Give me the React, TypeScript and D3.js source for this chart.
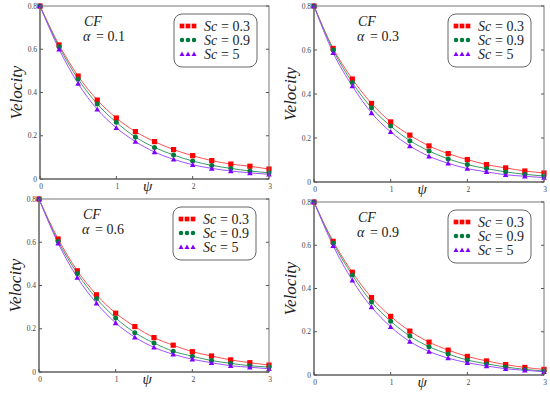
import React from "react";
import * as d3 from "d3";

// psi sample points (markers every 0.25)
const psi = [0, 0.25, 0.5, 0.75, 1, 1.25, 1.5, 1.75, 2, 2.25, 2.5, 2.75, 3];
const xTicks = [0, 1, 2, 3];
const yTicks = [0, 0.2, 0.4, 0.6, 0.8];
const scLabels = ["0.3", "0.9", "5"];
const alphaLabels = ["0.1", "0.3", "0.6", "0.9"];

// velocity profiles, one array per (alpha, Sc)
const a01Sc03 = [0.8, 0.62, 0.476, 0.365, 0.282, 0.219, 0.173, 0.136, 0.108, 0.085, 0.069, 0.059, 0.046];
const a01Sc09 = [0.8, 0.612, 0.462, 0.347, 0.262, 0.194, 0.146, 0.111, 0.083, 0.063, 0.049, 0.037, 0.029];
const a01Sc5 = [0.8, 0.6, 0.441, 0.322, 0.237, 0.173, 0.125, 0.091, 0.066, 0.049, 0.037, 0.028, 0.022];

const a03Sc03 = [0.8, 0.607, 0.468, 0.357, 0.273, 0.213, 0.164, 0.129, 0.102, 0.079, 0.064, 0.05, 0.041];
const a03Sc09 = [0.8, 0.6, 0.452, 0.337, 0.254, 0.188, 0.141, 0.105, 0.079, 0.061, 0.046, 0.035, 0.027];
const a03Sc5 = [0.8, 0.587, 0.436, 0.314, 0.228, 0.164, 0.117, 0.085, 0.061, 0.046, 0.033, 0.026, 0.02];

const a06Sc03 = [0.8, 0.615, 0.468, 0.357, 0.272, 0.21, 0.159, 0.124, 0.094, 0.074, 0.056, 0.043, 0.032];
const a06Sc09 = [0.8, 0.605, 0.456, 0.34, 0.25, 0.182, 0.134, 0.096, 0.073, 0.053, 0.04, 0.029, 0.023];
const a06Sc5 = [0.8, 0.595, 0.437, 0.318, 0.227, 0.161, 0.114, 0.082, 0.059, 0.043, 0.029, 0.022, 0.015];

const a09Sc03 = [0.8, 0.618, 0.475, 0.358, 0.271, 0.203, 0.152, 0.115, 0.086, 0.065, 0.048, 0.035, 0.026];
const a09Sc09 = [0.8, 0.61, 0.462, 0.338, 0.249, 0.18, 0.131, 0.097, 0.069, 0.052, 0.037, 0.026, 0.018];
const a09Sc5 = [0.8, 0.598, 0.438, 0.314, 0.223, 0.155, 0.109, 0.078, 0.057, 0.042, 0.029, 0.022, 0.015];

const panelSeries = [
  [a01Sc03, a01Sc09, a01Sc5],
  [a03Sc03, a03Sc09, a03Sc5],
  [a06Sc03, a06Sc09, a06Sc5],
  [a09Sc03, a09Sc09, a09Sc5],
];

// plot frames in pixels
const frames = [
  { left: 40, right: 269, top: 6, bottom: 179 },
  { left: 314, right: 544, top: 6, bottom: 182 },
  { left: 39, right: 269, top: 199, bottom: 372 },
  { left: 314, right: 544, top: 202, bottom: 375 },
];

const markerColors = ["#ff0000", "#007a3d", "#8000ff"];
const lineColors = ["#ff5050", "#3a9a6a", "#a050ff"];
const serif = "Liberation Serif, Times New Roman, DejaVu Serif, serif";

const Marker = ({ kind, x, y, s = 1 }: { kind: number; x: number; y: number; s?: number }) => {
  if (kind === 0)
    return <rect x={x - 2.6 * s} y={y - 2.6 * s} width={5.2 * s} height={5.2 * s} fill={markerColors[0]} />;
  if (kind === 1) return <circle cx={x} cy={y} r={2.5 * s} fill={markerColors[1]} />;
  const h = 2.8 * s;
  return (
    <path
      d={`M${x},${y - h}L${x + h},${y + h * 0.8}L${x - h},${y + h * 0.8}Z`}
      fill={markerColors[2]}
    />
  );
};

const Panel = ({ idx }: { idx: number }) => {
  const f = frames[idx];
  const x = d3.scaleLinear().domain([0, 3]).range([f.left, f.right]);
  const y = d3.scaleLinear().domain([0, 0.8]).range([f.bottom, f.top]);
  const line = d3
    .line<number>()
    .x((_, i) => x(psi[i]))
    .y((d) => y(d))
    .curve(d3.curveMonotoneX);
  const series = panelSeries[idx];
  const lx = f.left + 134;
  const ly = f.top + 8;
  const txt = { fontFamily: serif, fill: "#222" };

  return (
    <g>
      {/* series lines */}
      {series.map((s, k) => (
        <path key={"l" + k} d={line(s) || ""} fill="none" stroke={lineColors[k]} strokeWidth={1} />
      ))}
      {/* markers */}
      {series.map((s, k) =>
        s.map((v, i) => <Marker key={`m${k}-${i}`} kind={k} x={x(psi[i])} y={y(v)} />)
      )}

      {/* frame */}
      <rect
        x={f.left}
        y={f.top}
        width={f.right - f.left}
        height={f.bottom - f.top}
        fill="none"
        stroke="#777"
        strokeWidth={1}
      />
      <line x1={f.left} x2={f.left} y1={f.top} y2={f.bottom} stroke="#555" />
      <line x1={f.left} x2={f.right} y1={f.bottom} y2={f.bottom} stroke="#555" />

      {/* ticks */}
      {yTicks.map((t) => (
        <g key={"y" + t}>
          <line x1={f.left} x2={f.left + 3} y1={y(t)} y2={y(t)} stroke="#555" />
          <line x1={f.right} x2={f.right - 3} y1={y(t)} y2={y(t)} stroke="#555" />
          <text x={f.left - 3} y={y(t) + 2.5} textAnchor="end" style={{ ...txt, fontSize: 7.5, fill: "#444" }}>
            {t === 0 ? "0" : t.toFixed(1)}
          </text>
        </g>
      ))}
      {xTicks.map((t) => (
        <g key={"x" + t}>
          <line x1={x(t)} x2={x(t)} y1={f.bottom} y2={f.bottom - 3} stroke="#555" />
          <text x={x(t) + 1} y={f.bottom + 10} textAnchor="middle" style={{ ...txt, fontSize: 7.5, fill: "#444" }}>
            {t}
          </text>
        </g>
      ))}

      {/* axis titles */}
      <text
        transform={`translate(${f.left - 18},${(f.top + f.bottom) / 2}) rotate(-90)`}
        textAnchor="middle"
        style={{ ...txt, fontStyle: "italic", fontSize: 17 }}
      >
        Velocity
      </text>
      <text x={x(1.41)} y={f.bottom + 12} textAnchor="middle" style={{ ...txt, fontStyle: "italic", fontSize: 15 }}>
        ψ
      </text>

      {/* annotation */}
      <text x={f.left + 44} y={f.top + 20} style={{ ...txt, fontStyle: "italic", fontSize: 14 }}>
        CF
      </text>
      <text x={f.left + 43} y={f.top + 35} style={{ ...txt, fontStyle: "italic", fontSize: 14 }}>
        α
      </text>
      <text x={f.left + 56} y={f.top + 35} style={{ ...txt, fontSize: 14 }}>
        {"= " + alphaLabels[idx]}
      </text>

      {/* legend */}
      <rect x={lx} y={ly} width={83} height={53} rx={8} fill="#fff" stroke="#666" strokeWidth={1} />
      {scLabels.map((lab, k) => (
        <g key={"g" + k}>
          {[0, 1, 2].map((j) => (
            <Marker key={j} kind={k} x={lx + 8 + j * 6} y={ly + 12 + k * 14} s={0.9} />
          ))}
          <text x={lx + 30} y={ly + 16.5 + k * 14} style={{ ...txt, fontStyle: "italic", fontSize: 14 }}>
            Sc
          </text>
          <text x={lx + 47} y={ly + 16.5 + k * 14} style={{ ...txt, fontSize: 14 }}>
            {"= " + lab}
          </text>
        </g>
      ))}
    </g>
  );
};

export default function App() {
  return (
    <svg width={550} height={393} style={{ position: "absolute", left: 0, top: 0, background: "#fff" }}>
      <rect width={550} height={393} fill="#fff" />
      {frames.map((_, i) => (
        <Panel key={i} idx={i} />
      ))}
    </svg>
  );
}
